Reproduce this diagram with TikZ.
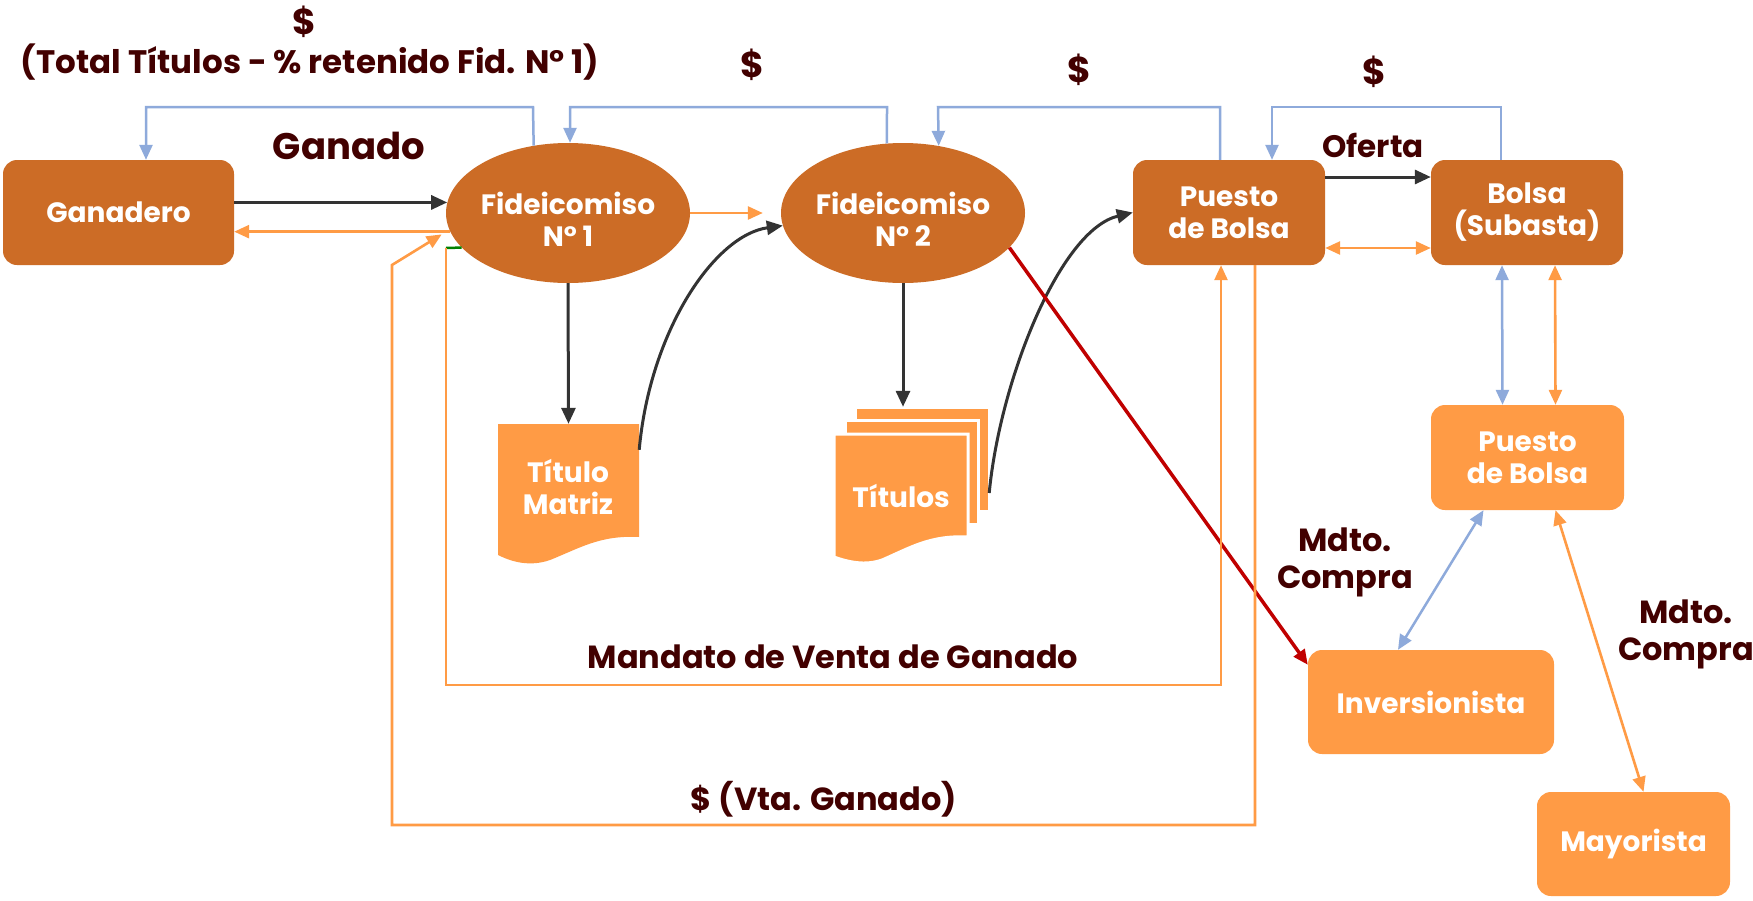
\documentclass[tikz,border=0pt]{standalone}
\usepackage{fontspec}
\setmainfont{Poppins}
\usetikzlibrary{arrows.meta,shapes.geometric,calc}
\definecolor{dorange}{HTML}{CC6C26}
\definecolor{lorange}{HTML}{FF9B45}
\definecolor{lblue}{HTML}{8EAADB}
\definecolor{maroon}{HTML}{420000}
\definecolor{dgray}{HTML}{333333}
\definecolor{dred}{HTML}{C00000}
\definecolor{dgreen}{HTML}{008000}
\newcommand\nfnt{\fontsize{28}{32}\selectfont\bfseries}
\begin{document}
\begin{tikzpicture}[x=1pt,y=-1pt,
 every node/.style={inner sep=0pt},
 dbox/.style={rectangle, rounded corners=14pt, fill=dorange, text=white, align=center, font=\nfnt},
 lbox/.style={dbox, fill=lorange},
 fid/.style={ellipse, fill=dorange, minimum width=244pt, minimum height=140pt},
 wtxt/.style={text=white, align=center, font=\nfnt},
 lbl/.style 2 args={text=maroon, align=center, font=\fontsize{#1}{#2}\selectfont\bfseries},
 tipA/.style={-{Triangle[length=15pt,width=13pt]}},
 tipB/.style={{Triangle[length=15pt,width=13pt]}-{Triangle[length=15pt,width=13pt]}},
 blk/.style={draw=dgray, line width=3pt, -{Triangle[length=16pt,width=14pt]}},
 org/.style={draw=lorange, line width=2.6pt},
 blu/.style={draw=lblue, line width=2.5pt}
]
\fill[white] (0,0) rectangle (1753,900);
\useasboundingbox (0,0) rectangle (1753,900);

% documents
\fill[lorange] (498,424) -- (639,424) -- (639,537) .. controls (600,535) and (580,548) .. (550,560) .. controls (530,567) and (512,562) .. (498,555) -- cycle;
\node[minimum width=141pt, minimum height=113pt] (tm) at (568.5,480.5) {};
\node[wtxt] (tmt) at (568,487) {Título\\Matriz};

\filldraw[fill=lorange, draw=white, line width=3pt] (855,407) rectangle (989,511);
\filldraw[fill=lorange, draw=white, line width=3pt] (845,420) rectangle (978,524);
\filldraw[fill=lorange, draw=white, line width=3pt] (834,434) -- (968,434) -- (968,537) .. controls (930,535) and (910,548) .. (882,560) .. controls (865,566) and (848,562) .. (834,557) -- cycle;
\node[minimum width=134pt, minimum height=104pt] (tsb) at (922,459) {};
\node[wtxt] (tst) at (901,496) {Títulos};

% main nodes
\node[dbox, minimum width=231pt, minimum height=105pt] (gan) at (118.5,212.5) {Ganadero};
\node[fid] (fid1) at (568,213) {};
\node[wtxt] (fid1t) at (568,219) {Fideicomiso\\N° 1};
\node[fid] (fid2) at (903,213) {};
\node[wtxt] (fid2t) at (903,219) {Fideicomiso\\N° 2};
\node[dbox, minimum width=192pt, minimum height=105pt] (pb1) at (1229,212.5) {Puesto\\de Bolsa};
\node[dbox, minimum width=192pt, minimum height=105pt] (bol) at (1527,212.5) {Bolsa\\(Subasta)};
\node[lbox, minimum width=193pt, minimum height=105pt] (pb2) at (1527.5,457.5) {Puesto\\de Bolsa};
\node[lbox, minimum width=246pt, minimum height=104pt] (inv) at (1431,702) {Inversionista};
\node[lbox, minimum width=193pt, minimum height=104pt] (may) at (1633.5,844) {Mayorista};

% labels
\node[lbl={36}{40}] (d0) at (304,22) {\$};
\node[lbl={32.5}{36}] (tot) at (310,62) {(Total Títulos - \% retenido Fid. N° 1)};
\node[lbl={37}{40}] (ganado) at (349,146) {Ganado};
\node[lbl={36}{40}] (d1) at (752,65) {\$};
\node[lbl={36}{40}] (d2) at (1079,70) {\$};
\node[lbl={36}{40}] (d3) at (1374,72) {\$};
\node[lbl={31}{34}] (of) at (1373,145) {Oferta};
\node[lbl={32}{37}] (mc1) at (1345,562) {Mdto.\\Compra};
\node[lbl={32}{37}] (mc2) at (1686,634) {Mdto.\\Compra};
\node[lbl={32}{36}] (mv) at (833,657) {Mandato de Venta de Ganado};
\node[lbl={32}{36}] (vta) at (824,799) {\$ (Vta. Ganado)};

% connectors
\draw[blk] (gan.east |- fid1.175) -- (fid1.175);
\draw[org, tipA] (fid1.189) -- (gan.east |- fid1.189);
\draw[org, tipA, shorten >=18pt] (fid1.east) -- (fid2.west);
\draw[blk] (fid1.south) -- (tm.north);
\draw[blk] (fid2.south) -- (fid2.south |- tsb.north);
\draw[blk] ([yshift=-26pt]tm.north east) .. controls (650,330) and (715,235) .. (fid2.186);
\draw[blk] ([yshift=-34pt]tsb.east) .. controls (1000,380) and (1060,230) .. (pb1.west);
\draw[draw=dred, line width=3.5pt, tipA] (fid2.-18) -- ([yshift=-15pt]inv.north west);

\draw[blk] ([yshift=35.5pt]pb1.east) -- ([yshift=35.5pt]bol.west);
\draw[org, tipB] ([yshift=-35.5pt]pb1.east) -- ([yshift=-35.5pt]bol.west);
\draw[blu, tipB] ([xshift=-25pt]bol.south) -- ([xshift=-25pt]pb2.north);
\draw[org, tipB] ([xshift=28pt]bol.south) -- ([xshift=28pt]pb2.north);
\draw[blu, tipB] ([xshift=-44pt]pb2.south) -- ([xshift=-33pt]inv.north);
\draw[org, tipB] ([xshift=28pt]pb2.south) -- ([xshift=10pt]may.north);

\draw[dgreen, line width=2.5pt] (fid1.198) -- (446,248);
\draw[org, tipA] (446,248) -- (446,685) -- (1221,685) -- ([xshift=-8pt]pb1.south);
\draw[org, tipA, shorten >=9pt] ([xshift=26pt]pb1.south) -- (1255,825) -- (392,825) -- (392,265) -- (fid1.188);

\draw[blu, tipA] (fid1.117.6) -- (533,107) -- (146,107) -- ([xshift=27.5pt]gan.north);
\draw[blu, tipA] (fid2.103) -- (887,107) -- (570,107) -- ([xshift=2pt]fid1.north);
\draw[blu, tipA] ([xshift=-9pt]pb1.north) -- (1220,107) -- (938,107) -- (fid2.62.4);
\draw[blu, tipA] ([xshift=-26pt]bol.north) -- (1501,107) -- (1272,107) -- ([xshift=43pt]pb1.north);
\end{tikzpicture}
\end{document}
